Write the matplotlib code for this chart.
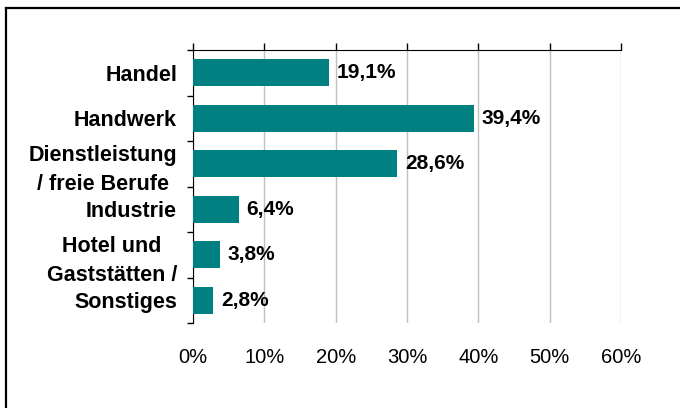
import matplotlib.pyplot as plt
from matplotlib.lines import Line2D

plt.rcParams['font.family'] = ['Liberation Sans', 'DejaVu Sans']

# Anteile der Betriebe nach Wirtschaftszweig
branchen = ['Handel', 'Handwerk', 'Dienstleistung\n/ freie Berufe', 'Industrie',
            'Hotel und\nGaststätten /', 'Sonstiges']
anteile = [19.1, 39.4, 28.6, 6.4, 3.8, 2.8]
x_ticks = [0, 10, 20, 30, 40, 50, 60]

fig = plt.figure(figsize=(6.8, 4.08), dpi=100)
ax = fig.add_axes([193 / 680, 1 - 323 / 408, 428 / 680, 273 / 408])

pos = list(range(len(branchen)))
ax.barh(pos, anteile, height=0.6, color='#008080', zorder=3)

for y, v in zip(pos, anteile):
    ax.text(v + 1.1, y, f'{v:.1f}%'.replace('.', ','), va='center', ha='left',
            fontsize=15, fontweight='bold', zorder=4)

ax.set_ylim(len(branchen) - 0.5, -0.5)
ax.set_xlim(0, 60)

# Kategorien mittig, Teilstriche an den Grenzen
ax.set_yticks(pos)
ax.set_yticklabels(branchen, fontsize=15.5, fontweight='bold')
for lab in ax.get_yticklabels():
    lab.set_multialignment('center')
    lab.set_linespacing(1.5)
ax.set_yticks([p - 0.5 for p in pos] + [len(pos) - 0.5], minor=True)
ax.tick_params(axis='y', which='major', length=0, pad=11.5)
ax.tick_params(axis='y', which='minor', length=4, width=1, color='black', direction='out')

ax.set_xticks(x_ticks)
ax.set_xticklabels([f'{t}%' for t in x_ticks], fontsize=14.5)
ax.tick_params(axis='x', bottom=False, top=True, labelbottom=True, labeltop=False,
               length=5, width=1, color='black', pad=13)

ax.grid(axis='x', color='#c0c0c0', linewidth=1, zorder=0)
for side in ['right', 'bottom']:
    ax.spines[side].set_visible(False)
ax.spines['top'].set_color('black')
ax.spines['left'].set_color('black')
ax.spines['top'].set_zorder(5)

# Rahmen links und oben
fig.add_artist(Line2D([6 / 680, 6 / 680], [0, 1 - 8 / 408], color='black', linewidth=1.6,
                      transform=fig.transFigure))
fig.add_artist(Line2D([6 / 680, 1], [1 - 8 / 408, 1 - 8 / 408], color='black', linewidth=1.6,
                      transform=fig.transFigure))

fig.savefig('out.png', dpi=100)
